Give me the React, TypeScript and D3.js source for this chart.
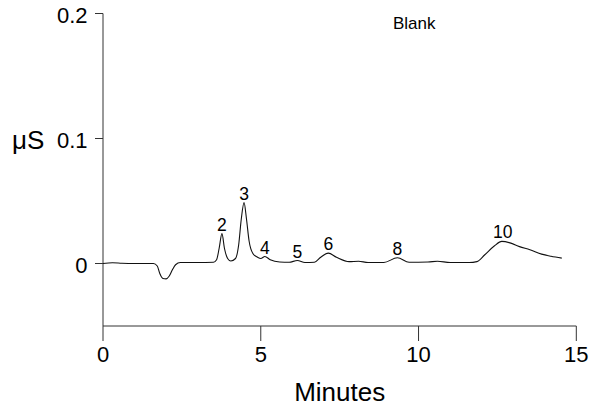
import React from "react";
import * as d3 from "d3";

const times = [0, 0.3, 0.6, 1.0, 1.6, 1.72, 1.8, 1.9, 2.0, 2.1, 2.2, 2.3, 2.45, 3.0, 3.5, 3.6, 3.68, 3.77, 3.85, 3.95, 4.05, 4.2, 4.3, 4.38, 4.47, 4.55, 4.63, 4.75, 4.9, 5.0, 5.13, 5.3, 5.6, 5.9, 6.16, 6.4, 6.7, 6.9, 7.14, 7.4, 7.8, 8.1, 8.4, 8.9, 9.33, 9.7, 10.3, 10.6, 11.0, 11.6, 11.85, 12.1, 12.4, 12.64, 12.9, 13.2, 13.53, 13.9, 14.2, 14.54];
const signal = [0, 0.0006, 0.0002, 0, 0, -0.002, -0.008, -0.012, -0.0123, -0.010, -0.005, -0.001, 0.0008, 0.0008, 0.0010, 0.003, 0.012, 0.0239, 0.012, 0.004, 0.002, 0.004, 0.015, 0.035, 0.0487, 0.035, 0.018, 0.008, 0.005, 0.004, 0.0056, 0.003, 0.0012, 0.001, 0.0024, 0.0008, 0.001, 0.005, 0.0083, 0.005, 0.0015, 0.0018, 0.0008, 0.0008, 0.0046, 0.001, 0.0012, 0.0018, 0.0008, 0.0008, 0.0015, 0.007, 0.014, 0.0177, 0.0165, 0.0135, 0.011, 0.0075, 0.0058, 0.0043];

const peakLabels = ["2", "3", "4", "5", "6", "8", "10"];
const peakTimes = [3.77, 4.47, 5.13, 6.16, 7.14, 9.33, 12.67];
const peakValues = [0.0239, 0.0487, 0.0056, 0.0024, 0.0083, 0.0046, 0.0177];

const xTicks = [0, 5, 10, 15];
const yTicks = [0, 0.1, 0.2];

export default function App() {
  const W = 591, H = 406;
  const x = d3.scaleLinear().domain([0, 15]).range([103, 576.3]);
  const y = d3.scaleLinear().domain([-0.05, 0.2]).range([326, 13.5]);
  const pts = times.map((t, i) => [t, signal[i]] as [number, number]);
  const line = d3.line<[number, number]>().x(d => x(d[0])).y(d => y(d[1])).curve(d3.curveMonotoneX);
  const font = "'Liberation Sans', Arial, sans-serif";
  const axisColor = "#333";
  return (
    <svg width={W} height={H} style={{ position: "absolute", left: 0, top: 0, background: "#fff" }} fontFamily={font}>
      <rect width={W} height={H} fill="#fff" />
      <line x1={x(0)} x2={x(0)} y1={y(0.2)} y2={y(-0.05)} stroke={axisColor} strokeWidth={1} />
      {yTicks.map(v => (
        <g key={v}>
          <line x1={x(0) - 8} x2={x(0)} y1={y(v)} y2={y(v)} stroke={axisColor} strokeWidth={1} />
          <text x={87.5} y={y(v) + 9} textAnchor="end" fontSize={22} fill="#000">{v === 0 ? "0" : String(v)}</text>
        </g>
      ))}
      <text x={12} y={y(0.1) + 10} fontSize={26} fill="#000">μS</text>
      <line x1={x(0)} x2={x(15)} y1={y(-0.05)} y2={y(-0.05)} stroke={axisColor} strokeWidth={1} />
      {xTicks.map(t => (
        <g key={t}>
          <line x1={x(t)} x2={x(t)} y1={y(-0.05)} y2={y(-0.05) + 15} stroke={axisColor} strokeWidth={1} />
          <text x={x(t)} y={362} textAnchor="middle" fontSize={22} fill="#000">{t}</text>
        </g>
      ))}
      <text x={(x(0) + x(15)) / 2} y={401} textAnchor="middle" fontSize={26} fill="#000">Minutes</text>
      <path d={line(pts) || ""} fill="none" stroke="#111" strokeWidth={1.1} />
      {peakLabels.map((l, i) => (
        <text key={l} x={x(peakTimes[i])} y={y(peakValues[i]) - 3} textAnchor="middle" fontSize={17.5} fill="#000">{l}</text>
      ))}
      <text x={393} y={29.3} fontSize={17} fill="#000">Blank</text>
    </svg>
  );
}
